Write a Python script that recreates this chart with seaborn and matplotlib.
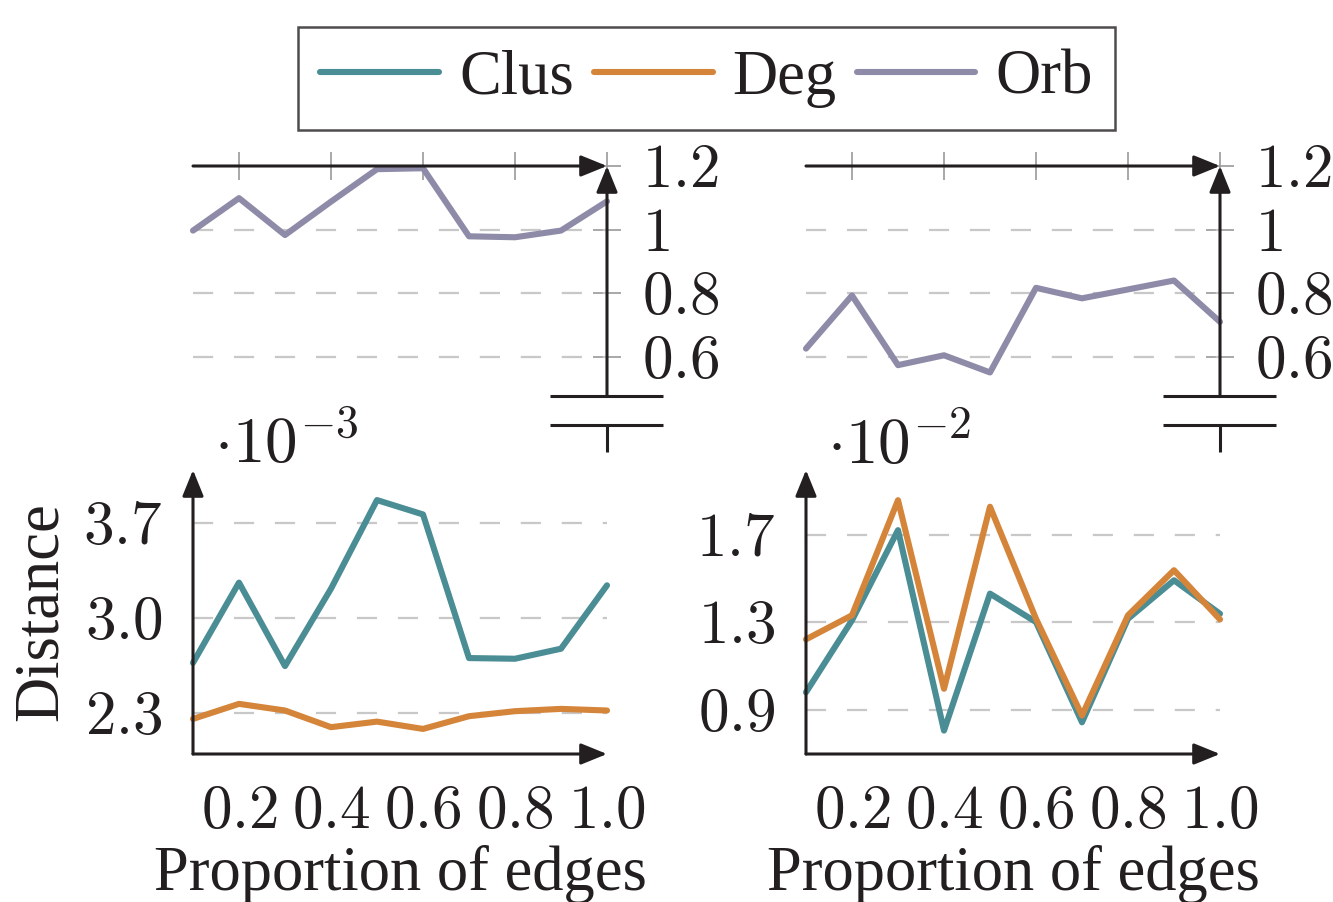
import matplotlib
matplotlib.use("Agg")
import matplotlib.pyplot as plt
import seaborn as sns

# Proporción de aristas (eje x)
prop = [0.1, 0.2, 0.3, 0.4, 0.5, 0.6, 0.7, 0.8, 0.9, 1.0]

# Panel izquierdo (Clus y Deg en unidades de 1e-3)
orb_izq = [0.997, 1.099, 0.983, 1.088, 1.190, 1.193, 0.979, 0.976, 0.997, 1.089]
clus_izq = [2.667, 3.259, 2.643, 3.214, 3.868, 3.762, 2.702, 2.697, 2.771, 3.239]
deg_izq = [2.253, 2.364, 2.315, 2.192, 2.233, 2.179, 2.273, 2.310, 2.327, 2.315]

# Panel derecho (Clus y Deg en unidades de 1e-2)
orb_der = [0.626, 0.793, 0.574, 0.605, 0.551, 0.817, 0.784, 0.812, 0.840, 0.710]
clus_der = [0.979, 1.308, 1.720, 0.804, 1.430, 1.300, 0.842, 1.315, 1.491, 1.338]
deg_der = [1.221, 1.331, 1.857, 0.995, 1.827, 1.315, 0.873, 1.331, 1.537, 1.312]

# Ticks y etiquetas
xticks = [0.2, 0.4, 0.6, 0.8, 1.0]
xticklabels = ['0.2', '0.4', '0.6', '0.8', '1.0']
yticks_orb = [0.6, 0.8, 1.0, 1.2]
yticklabels_orb = ['0.6', '0.8', '1', '1.2']
yticks_izq = [2.3, 3.0, 3.7]
yticklabels_izq = ['2.3', '3.0', '3.7']
yticks_der = [0.9, 1.3, 1.7]
yticklabels_der = ['0.9', '1.3', '1.7']

series = ['Clus', 'Deg', 'Orb']
colores = {'Clus': '#4a8d95', 'Deg': '#d5853a', 'Orb': '#8e8ba8'}

C_EJE = '#231f20'
C_TICK = '#9a9a9a'
C_GRID = '#c8c8c8'
FS_NUM = 44
FS_TXT = 45
LW_DATOS = 4.4

sns.set_style("white")
plt.rcParams['font.family'] = ['Liberation Serif', 'DejaVu Serif']
plt.rcParams['mathtext.fontset'] = 'cm'
plt.rcParams['lines.scale_dashes'] = False

fig = plt.figure(figsize=(13.33, 9.02), dpi=100)

W, H = 1333, 902
def caja(x0, x1, ytop, ybot):
    return [x0 / W, 1 - ybot / H, (x1 - x0) / W, (ybot - ytop) / H]

ax_orb_i = fig.add_axes(caja(193, 607, 166, 396))
ax_bot_i = fig.add_axes(caja(193, 607, 470, 754))
ax_orb_d = fig.add_axes(caja(806, 1220, 166, 396))
ax_bot_d = fig.add_axes(caja(806, 1220, 470, 754))

flecha = dict(arrowstyle='-|>,head_length=16,head_width=6.5', mutation_scale=1,
              lw=2.2, color=C_EJE, shrinkA=0, shrinkB=0)

def mt(lbls):
    return ['$' + s + '$' for s in lbls]

def rejilla(ax, yt):
    for y in yt:
        ax.axhline(y, color=C_GRID, lw=1.6, dashes=(14.5, 15), zorder=1)

def panel_orb(ax, vals):
    sns.lineplot(x=prop, y=vals, ax=ax, color=colores['Orb'], linewidth=LW_DATOS,
                 clip_on=False, zorder=3, legend=False)
    ax.set_xlim(0.1, 1.0)
    ax.set_ylim(0.477, 1.2)
    for s in ax.spines.values():
        s.set_visible(False)
    ax.xaxis.tick_top()
    ax.yaxis.tick_right()
    ax.set_xticks(xticks)
    ax.set_xticklabels([])
    ax.set_yticks(yticks_orb)
    ax.set_yticklabels(mt(yticklabels_orb))
    ax.tick_params(axis='both', direction='inout', length=20, width=1.2, color=C_TICK)
    ax.tick_params(axis='y', pad=15, labelsize=FS_NUM, labelcolor=C_EJE)
    ax.set_xlabel('')
    ax.set_ylabel('')
    rejilla(ax, yticks_orb[:-1])
    ax.annotate('', xy=(1, 1), xytext=(0, 1), xycoords='axes fraction', arrowprops=flecha, zorder=5)
    ax.annotate('', xy=(1, 1), xytext=(1, 0), xycoords='axes fraction', arrowprops=flecha, zorder=5)
    # marca de eje cortado
    for y in (0, -0.124):
        ax.plot([0.862, 1.135], [y, y], transform=ax.transAxes, color=C_EJE, lw=2.2,
                clip_on=False, solid_capstyle='butt', zorder=5)
    ax.plot([1, 1], [-0.124, -0.243], transform=ax.transAxes, color=C_EJE, lw=2.2,
            clip_on=False, solid_capstyle='butt', zorder=5)
    ax.set_facecolor('none')

def panel_bajo(ax, clus, deg, yt, ytl, ylim, mult):
    sns.lineplot(x=prop, y=clus, ax=ax, color=colores['Clus'], linewidth=LW_DATOS,
                 clip_on=False, zorder=3, legend=False)
    sns.lineplot(x=prop, y=deg, ax=ax, color=colores['Deg'], linewidth=LW_DATOS,
                 clip_on=False, zorder=4, legend=False)
    ax.set_xlim(0.1, 1.0)
    ax.set_ylim(*ylim)
    for s in ax.spines.values():
        s.set_visible(False)
    ax.set_xticks(xticks)
    ax.set_xticklabels(mt(xticklabels))
    ax.set_yticks(yt)
    ax.set_yticklabels(mt(ytl))
    ax.tick_params(axis='both', direction='inout', length=20, width=1.2, color=C_TICK,
                   labelsize=FS_NUM, labelcolor=C_EJE)
    ax.tick_params(axis='x', pad=13)
    ax.tick_params(axis='y', pad=12)
    ax.set_ylabel('')
    ax.set_xlabel('Proportion of edges', fontsize=FS_TXT, color=C_EJE)
    ax.xaxis.set_label_coords(0.5, -0.425)
    ax.xaxis.label.set_va('center')
    rejilla(ax, yt)
    ax.annotate('', xy=(1, 0), xytext=(0, 0), xycoords='axes fraction', arrowprops=flecha, zorder=5)
    ax.annotate('', xy=(0, 1), xytext=(0, 0), xycoords='axes fraction', arrowprops=flecha, zorder=5)
    ax.text(0.05, 0.975, mult, transform=ax.transAxes, fontsize=47, color=C_EJE,
            ha='left', va='bottom')
    ax.set_facecolor('none')

panel_orb(ax_orb_i, orb_izq)
panel_orb(ax_orb_d, orb_der)
panel_bajo(ax_bot_i, clus_izq, deg_izq, yticks_izq, yticklabels_izq, (1.994, 4.09),
           r'$\cdot10^{-3}$')
panel_bajo(ax_bot_d, clus_der, deg_der, yticks_der, yticklabels_der, (0.697, 1.995),
           r'$\cdot10^{-2}$')

fig.text(42 / W, 1 - 612 / H, 'Distance', rotation=90, fontsize=FS_TXT, color=C_EJE,
         ha='center', va='center')

# Leyenda común
handles = [plt.Line2D([], [], color=colores[s], lw=LW_DATOS) for s in series]
leg = fig.legend(handles, series, loc='center', bbox_to_anchor=(706.5 / W, 1 - 78.5 / H),
                 ncol=3, frameon=True, fancybox=False, edgecolor=C_EJE, fontsize=FS_TXT,
                 handlelength=1.9, handletextpad=0.32, columnspacing=0.32, borderpad=0.36)
leg.get_frame().set_linewidth(1.8)
for t in leg.get_texts():
    t.set_color(C_EJE)

fig.savefig('out.png', dpi=100)
